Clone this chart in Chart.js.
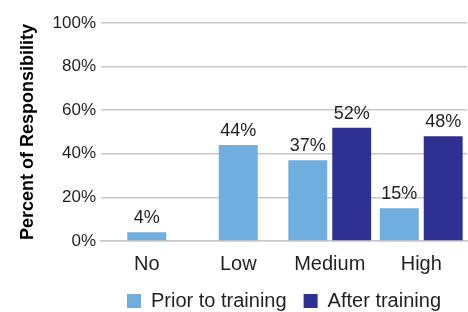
<!DOCTYPE html>
<html>
<head>
<meta charset="utf-8">
<script src="https://cdn.jsdelivr.net/npm/chart.js@4/dist/chart.umd.min.js"></script>
<style>
  html, body { margin: 0; padding: 0; background: #fff; }
  #wrap { width: 468px; height: 312px; }
</style>
</head>
<body>
<div id="wrap"><canvas id="chart"></canvas></div>
<script>
const categories = ['No', 'Low', 'Medium', 'High'];
const priorValues = [4, 44, 37, 15];
const afterValues = [null, null, 52, 48];
const yTicks = [0, 20, 40, 60, 80, 100];

const FONT = '"Liberation Sans", Arial, Helvetica, sans-serif';

// draws the % above each bar
const valueLabels = {
    id: 'valueLabels',
    afterDatasetsDraw(chart) {
        const ctx = chart.ctx;
        ctx.save();
        ctx.font = '18px ' + FONT;
        ctx.fillStyle = '#231f20';
        ctx.textAlign = 'center';
        ctx.textBaseline = 'alphabetic';
        chart.data.datasets.forEach((ds, i) => {
            chart.getDatasetMeta(i).data.forEach((bar, j) => {
                const v = ds.data[j];
                if (v === null || v === undefined) return;
                ctx.fillText(v + '%', bar.x, bar.y - 9);
            });
        });
        ctx.restore();
    }
};

const ctx = document.getElementById('chart').getContext('2d');
new Chart(ctx, {
    type: 'bar',
    data: {
        labels: categories,
        datasets: [
            {
                label: 'Prior to training',
                data: priorValues,
                backgroundColor: '#70aedf'
            },
            {
                label: 'After training',
                data: afterValues,
                backgroundColor: '#2e3191'
            }
        ]
    },
    options: {
        responsive: true,
        maintainAspectRatio: false,
        animation: false,
        skipNull: true,
        categoryPercentage: 0.96,
        barPercentage: 0.886,
        maxBarThickness: 39,
        layout: {
            padding: { left: 0, right: 1, top: 23, bottom: -9 }
        },
        scales: {
            x: {
                grid: { display: false, drawTicks: false },
                border: { color: '#c8c8c8', width: 1.5 },
                ticks: {
                    color: '#231f20',
                    font: { family: FONT, size: 20 },
                    padding: 11
                },
                afterFit: function(scale) {
                    scale.height = 33;
                }
            },
            y: {
                min: 0,
                max: 100,
                afterBuildTicks: function(scale) {
                    scale.ticks = yTicks.map(v => ({ value: v }));
                },
                afterFit: function(scale) {
                    scale.width = 101;
                },
                grid: { color: '#c8c8c8', lineWidth: 1.5, drawTicks: false },
                border: { display: false },
                ticks: {
                    color: '#231f20',
                    font: { family: FONT, size: 17 },
                    padding: 5,
                    callback: v => v + '%'
                },
                title: {
                    display: true,
                    text: 'Percent of Responsibility',
                    color: '#000',
                    font: { family: FONT, size: 18, weight: 'bold' },
                    padding: { top: 17, bottom: 0 }
                }
            }
        },
        plugins: {
            legend: {
                position: 'bottom',
                fullSize: false,
                labels: {
                    color: '#231f20',
                    font: { family: FONT, size: 20 },
                    boxWidth: 14,
                    boxHeight: 14,
                    padding: 17
                }
            },
            tooltip: { enabled: false }
        }
    },
    plugins: [valueLabels]
});
</script>
</body>
</html>
